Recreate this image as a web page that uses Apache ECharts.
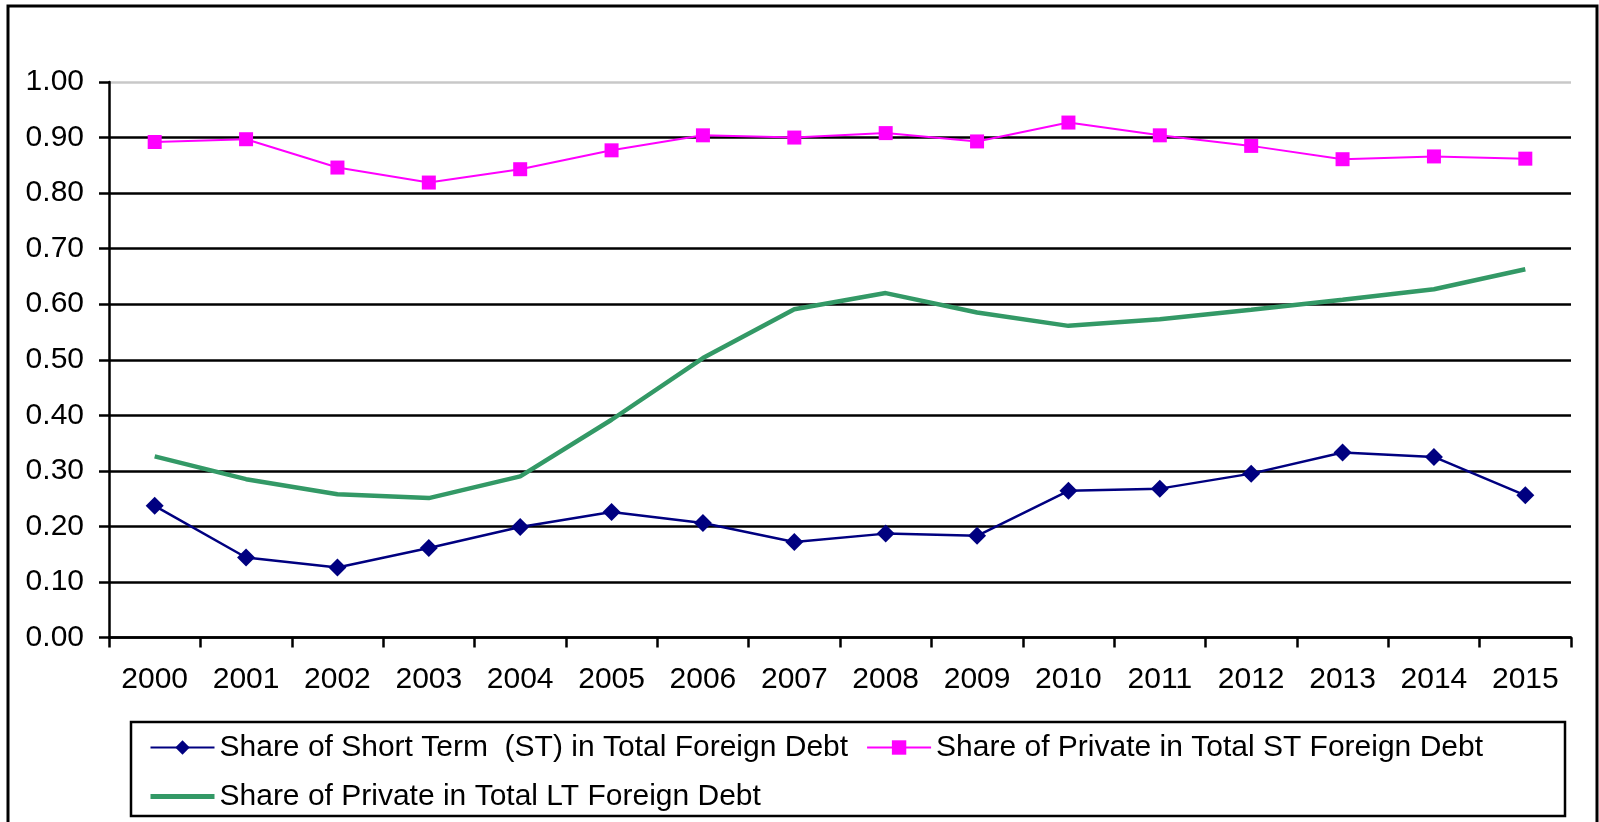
<!DOCTYPE html>
<html>
<head>
<meta charset="utf-8">
<script src="https://cdn.jsdelivr.net/npm/echarts@6/dist/echarts.min.js"></script>
<style>
  html, body { margin: 0; padding: 0; background: #fff; }
  #chart { width: 1599px; height: 822px; }
</style>
</head>
<body>
<div id="chart"></div>
<script>
// data
const years = ['2000', '2001', '2002', '2003', '2004', '2005', '2006', '2007',
  '2008', '2009', '2010', '2011', '2012', '2013', '2014', '2015']
const shortTermShare = [0.237, 0.144, 0.126, 0.161, 0.199, 0.226, 0.206, 0.172,
  0.187, 0.183, 0.264, 0.268, 0.295, 0.333, 0.325, 0.256]
const privateStShare = [0.892, 0.897, 0.846, 0.819, 0.843, 0.877, 0.904, 0.900,
  0.908, 0.893, 0.927, 0.904, 0.885, 0.861, 0.866, 0.862]
const privateLtShare = [0.326, 0.285, 0.258, 0.251, 0.290, 0.392, 0.503, 0.591,
  0.620, 0.585, 0.561, 0.573, 0.590, 0.608, 0.627, 0.663]
const seriesNames = [
  'Share of Short Term  (ST) in Total Foreign Debt',
  'Share of Private in Total ST Foreign Debt',
  'Share of Private in Total LT Foreign Debt'
]

const font = "'Liberation Sans', Arial, sans-serif"
const chart = echarts.init(document.getElementById('chart'), null, { renderer: 'canvas' })

// grid lines: black, except the top one (1.00) which is light gray
const splitColors = ['#000', '#000', '#000', '#000', '#000', '#000', '#000', '#000', '#000', '#000', '#c8c8c8']

const option = {
  backgroundColor: '#fff',
  animation: false,
  textStyle: { fontFamily: font },
  graphic: [
    {
      // outer frame
      type: 'rect',
      shape: { x: 8, y: 6, width: 1589, height: 840 },
      style: { fill: 'none', stroke: '#000', lineWidth: 3 },
      silent: true
    },
    {
      // legend box
      type: 'rect',
      shape: { x: 131, y: 722, width: 1434, height: 94 },
      style: { fill: 'none', stroke: '#000', lineWidth: 2.5 },
      silent: true
    }
  ],
  grid: {
    left: 109,
    right: 28,
    top: 82,
    bottom: 184.5,
    containLabel: false
  },
  legend: {
    left: 143,
    top: 727,
    width: 1400,
    orient: 'horizontal',
    itemWidth: 64,
    itemHeight: 18,
    itemGap: 18,
    textStyle: { fontSize: 30, color: '#000', fontFamily: font, lineHeight: 31 },
    data: [
      { name: seriesNames[0] },
      { name: seriesNames[1] },
      { name: seriesNames[2], itemStyle: { opacity: 0 }, lineStyle: { width: 5 } }
    ]
  },
  xAxis: {
    type: 'category',
    data: years,
    boundaryGap: true,
    axisLine: { lineStyle: { color: '#000', width: 2.5 } },
    axisTick: { show: true, interval: 0, length: 10, lineStyle: { color: '#000', width: 2.5 } },
    axisLabel: { interval: 0, margin: 27, fontSize: 30, color: '#000', fontFamily: font },
    splitLine: { show: false }
  },
  yAxis: {
    type: 'value',
    min: 0,
    max: 1,
    interval: 0.1,
    axisLine: { show: true, lineStyle: { color: '#000', width: 2.5 } },
    axisTick: { show: true, length: 10, lineStyle: { color: '#000', width: 2.5 } },
    axisLabel: {
      margin: 25,
      fontSize: 30,
      color: '#000',
      fontFamily: font,
      formatter: v => v.toFixed(2)
    },
    splitLine: { show: true, lineStyle: { color: splitColors, width: 2.5 } }
  },
  series: [
    {
      name: seriesNames[0],
      type: 'line',
      data: shortTermShare,
      symbol: 'diamond',
      symbolSize: 18,
      itemStyle: { color: '#000080' },
      lineStyle: { color: '#000080', width: 2.5 },
      z: 3
    },
    {
      name: seriesNames[1],
      type: 'line',
      data: privateStShare,
      symbol: 'rect',
      symbolSize: 14,
      itemStyle: { color: '#ff00ff' },
      lineStyle: { color: '#ff00ff', width: 2 },
      z: 3
    },
    {
      name: seriesNames[2],
      type: 'line',
      data: privateLtShare,
      symbol: 'none',
      itemStyle: { color: '#339966' },
      lineStyle: { color: '#339966', width: 4.5 },
      z: 2
    }
  ]
}

chart.setOption(option)
</script>
</body>
</html>
